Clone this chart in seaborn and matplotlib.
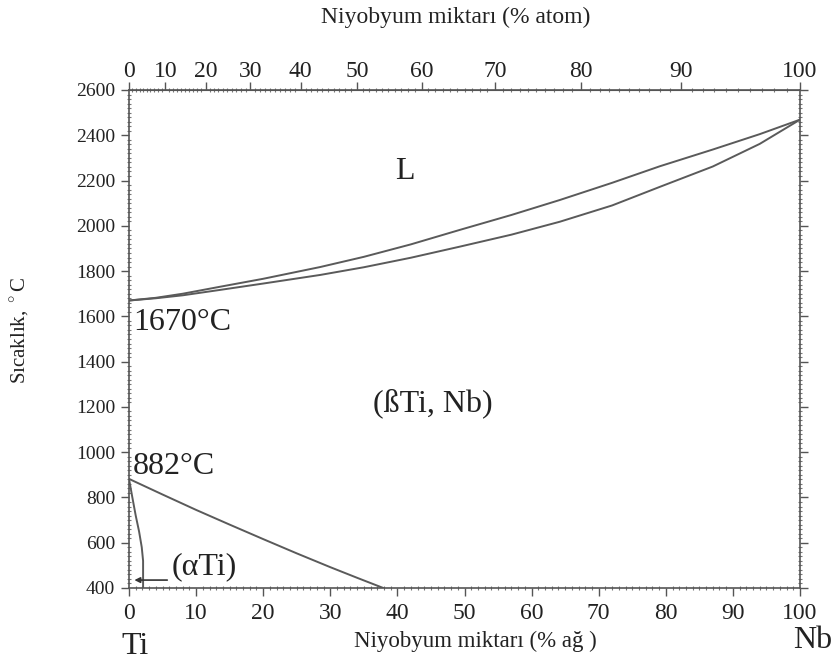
import numpy as np
import pandas as pd
import matplotlib
matplotlib.use("Agg")
import matplotlib.pyplot as plt
from matplotlib.ticker import MultipleLocator, FixedLocator
import seaborn as sns

# Ti-Nb phase boundaries, composition in wt% Nb, temperature in degC
liquidus_wt = [0, 4, 8, 13.6, 20, 28.5, 35, 42, 49.3, 57, 64.2, 72, 79.1, 87, 94, 100]
liquidus_T = [1670, 1682, 1700, 1731, 1766, 1818, 1863, 1918, 1982, 2048, 2114, 2190,
              2263, 2337, 2405, 2469]

solidus_wt = [0, 4, 8, 13.6, 20, 28.5, 35, 42, 49.3, 57, 64.2, 72, 79.1, 87, 94, 100]
solidus_T = [1670, 1680, 1693, 1717, 1745, 1783, 1817, 1859, 1908, 1961, 2018, 2090,
             2172, 2262, 2362, 2469]

transus_wt = [0, 5, 10, 15, 20, 25, 30, 34, 37.9]
transus_T = [882, 813, 745, 680, 616, 553, 492, 445, 400]

solvus_wt = [0, 0.5, 1.0, 1.5, 1.9, 2.1, 2.1]
solvus_T = [882, 800, 720, 650, 580, 520, 400]

bottom_ticks = list(range(0, 101, 10))
top_ticks = list(range(0, 101, 10))
y_ticks = list(range(400, 2601, 200))

M_TI, M_NB = 47.867, 92.906


def at_to_wt(a):
    a = np.asarray(a, dtype=float)
    return 100 * a * M_TI / (a * M_TI + (100 - a) * M_NB)


def wt_to_at(w):
    w = np.asarray(w, dtype=float)
    return 100 * w * M_NB / (w * M_NB + (100 - w) * M_TI)


sns.set_style("ticks")
plt.rcParams["font.family"] = ["Liberation Serif", "DejaVu Serif"]
plt.rcParams["mathtext.fontset"] = "custom"
plt.rcParams["mathtext.rm"] = "Liberation Serif"

fig = plt.figure(figsize=(8.39, 6.67), dpi=100)
ax = fig.add_axes([129 / 839, 1 - 588 / 667, 671 / 839, 498 / 667])

line_color = "#5a5a5a"
frames = [
    pd.DataFrame({"wt": liquidus_wt, "T": liquidus_T}),
    pd.DataFrame({"wt": solidus_wt, "T": solidus_T}),
    pd.DataFrame({"wt": transus_wt, "T": transus_T}),
    pd.DataFrame({"wt": solvus_wt, "T": solvus_T}),
]
for df in frames:
    sns.lineplot(data=df, x="wt", y="T", ax=ax, sort=False, estimator=None,
                 color=line_color, linewidth=1.4)

ax.set_xlim(0, 100)
ax.set_ylim(400, 2600)
ax.set_xlabel("")
ax.set_ylabel("")

spine_color = "#555555"
for s in ax.spines.values():
    s.set_color(spine_color)
    s.set_linewidth(1.2)

ax.set_xticks(bottom_ticks)
ax.set_yticks(y_ticks)
ax.xaxis.set_minor_locator(MultipleLocator(1))
ax.yaxis.set_minor_locator(MultipleLocator(20))
ax.tick_params(axis="both", which="major", direction="out", length=6, width=1,
               color=spine_color, labelcolor="#222222")
ax.tick_params(axis="both", which="minor", direction="inout", length=3, width=0.8,
               color="#777777")
ax.tick_params(axis="x", labelsize=17, pad=5)
ax.tick_params(axis="y", labelsize=14, pad=4)
ax.tick_params(axis="y", which="both", right=True)

# upper composition axis in at% Nb
sec = ax.secondary_xaxis("top", functions=(wt_to_at, at_to_wt))
sec.set_xticks(top_ticks)
sec.xaxis.set_minor_locator(FixedLocator(list(range(0, 101, 1))))
sec.tick_params(which="major", direction="out", length=6, width=1,
                color=spine_color, labelsize=17, labelcolor="#222222", pad=0)
sec.tick_params(which="minor", direction="inout", length=3, width=0.8, color="#777777")
sec.spines["top"].set_color(spine_color)

fig.text(456 / 839, 1 - 17 / 667, "Niyobyum miktarı (% atom)", ha="center",
         va="center", fontsize=17, color="#222222")
fig.text(475 / 839, 1 - 641 / 667, "Niyobyum miktarı (% ağ )", ha="center",
         va="center", fontsize=16.5, color="#222222")
fig.text(20 / 839, 1 - 330 / 667, "Sıcaklık, $^\\circ$C", ha="center", va="center",
         rotation=90, fontsize=15, color="#222222")
fig.text(135 / 839, 1 - 647 / 667, "Ti", ha="center", va="center",
         fontsize=23, color="#222222")
fig.text(813 / 839, 1 - 641 / 667, "Nb", ha="center", va="center",
         fontsize=23, color="#222222")

label_kw = dict(fontsize=23, color="#222222")
ax.text(41.1, 2238, "L", ha="center", va="center", **label_kw)
ax.text(45.3, 1217, "(ßTi, Nb)", ha="center", va="center", **label_kw)
ax.text(0.6, 1572, "1670°C", ha="left", va="center", **label_kw)
ax.text(0.6, 935, "882°C", ha="left", va="center", **label_kw)
ax.text(6.4, 495, "(αTi)", ha="left", va="center", **label_kw)
ax.annotate("", xy=(0.8, 435), xytext=(5.7, 435),
            arrowprops=dict(arrowstyle="-|>", color="#333333", lw=1.2,
                            mutation_scale=8, shrinkA=0, shrinkB=0))

fig.savefig("out.png", dpi=100)
